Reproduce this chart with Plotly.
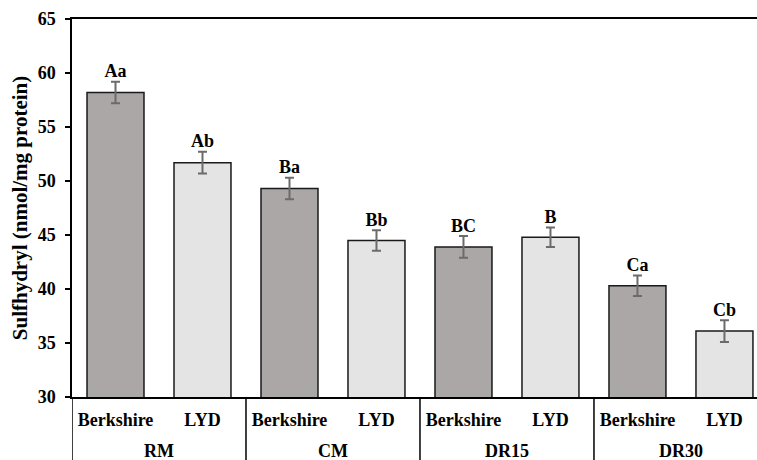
import plotly.graph_objects as go

groups = ["RM", "RM", "CM", "CM", "DR15", "DR15", "DR30", "DR30"]
breeds = ["Berkshire", "LYD", "Berkshire", "LYD", "Berkshire", "LYD", "Berkshire", "LYD"]
values = [58.2, 51.7, 49.3, 44.5, 43.9, 44.8, 40.3, 36.1]
errors = [1.0, 1.0, 1.0, 0.95, 1.0, 0.9, 0.95, 1.0]
letters = ["Aa", "Ab", "Ba", "Bb", "BC", "B", "Ca", "Cb"]
colors = ["#aba7a6" if b == "Berkshire" else "#e4e4e4" for b in breeds]

FONT = "Liberation Serif"
xpos = list(range(len(values)))

fig = go.Figure()
fig.add_trace(go.Bar(
    x=xpos, y=values,
    marker=dict(color=colors, line=dict(color="#1a1a1a", width=1.5)),
    width=0.655,
    error_y=dict(type="data", array=errors, visible=True, color="#6b6b6b", thickness=2, width=4.5),
    showlegend=False,
))
fig.add_trace(go.Scatter(
    x=xpos, y=[v + e for v, e in zip(values, errors)],
    mode="text", text=letters, textposition="top center",
    textfont=dict(family=FONT, size=18, color="black", weight="bold"),
    showlegend=False, cliponaxis=False,
))

# group labels and dividers below the axis
unique_groups = []
for g in groups:
    if g not in unique_groups:
        unique_groups.append(g)
for g in unique_groups:
    idx = [i for i, gg in enumerate(groups) if gg == g]
    fig.add_annotation(x=sum(idx) / len(idx), y=-0.142, xref="x", yref="paper",
                       text=g, showarrow=False, yanchor="middle",
                       font=dict(family=FONT, size=18, color="black", weight="bold"))
    fig.add_shape(type="line", xref="x", yref="paper", x0=min(idx) - 0.5, x1=min(idx) - 0.5,
                  y0=0, y1=-0.2, line=dict(color="black", width=1.5))

fig.update_layout(
    width=757, height=460,
    margin=dict(l=72, r=0, t=19, b=63),
    plot_bgcolor="white", paper_bgcolor="white",
    font=dict(family=FONT, size=18, color="black"),
)
fig.update_xaxes(
    range=[-0.5, 7.374], automargin=False,
    tickmode="array", tickvals=xpos, ticktext=breeds,
    showline=True, linecolor="black", linewidth=1.5, mirror=True,
    showgrid=False, zeroline=False, ticks="", ticklabelstandoff=6,
    tickfont=dict(family=FONT, size=18, color="black", weight="bold"),
)
fig.update_yaxes(
    range=[30, 65], dtick=5, automargin=False,
    showline=True, linecolor="black", linewidth=1.5, mirror=False,
    showgrid=False, zeroline=False,
    ticks="outside", ticklen=5, tickcolor="black", tickwidth=1.5, ticklabelstandoff=6,
    tickfont=dict(family=FONT, size=18, color="black", weight="bold"),
    title=dict(text="Sulfhydryl (nmol/mg protein)", standoff=4,
               font=dict(family=FONT, size=21, color="black", weight="bold")),
)
fig.write_html("out.html", config={"displayModeBar": False},
               post_script="document.body.style.margin='0px';document.body.style.overflow='hidden';")
